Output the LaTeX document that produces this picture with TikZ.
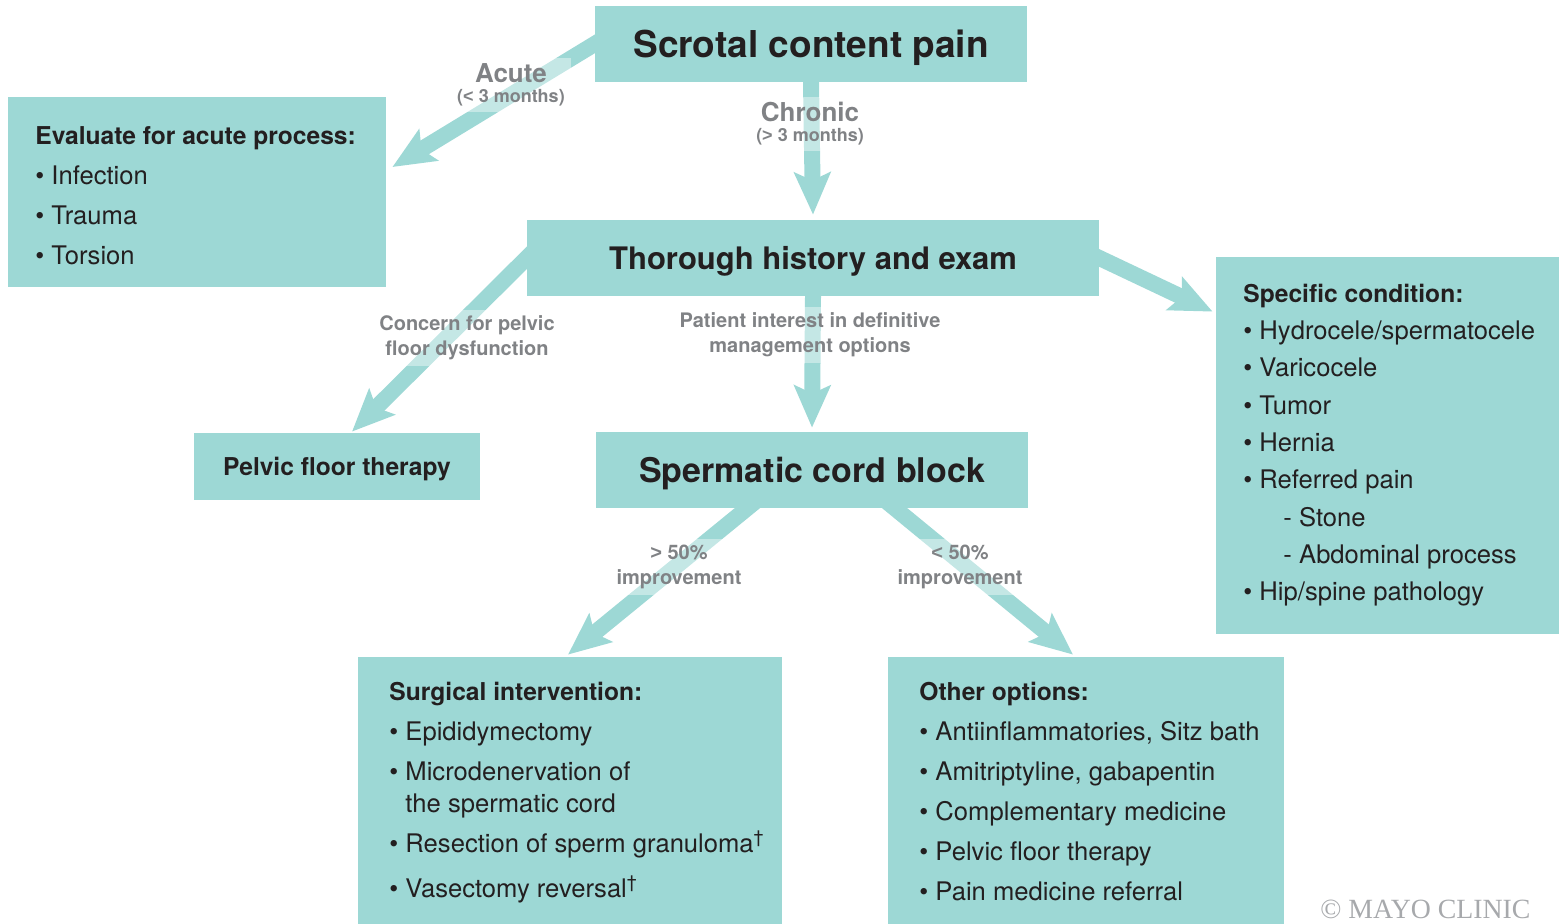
\documentclass[tikz,border=0pt]{standalone}
\usepackage{fontspec}
\setmainfont{TeX Gyre Heros}
\newfontfamily\mayofont{Liberation Serif}
\newfontfamily\relfont{Liberation Sans}
\usetikzlibrary{arrows.meta}

\definecolor{boxteal}{RGB}{157,216,213}
\definecolor{labelgray}{RGB}{128,130,133}
\definecolor{textdark}{RGB}{35,31,32}
\definecolor{mayogray}{RGB}{167,169,172}

\tikzset{
  box/.style={fill=boxteal, inner sep=0pt, text=textdark},
  title/.style={box, text depth=0pt},
  flow/.style={draw=boxteal, line width=8pt, shorten <=-6pt,
    -{Stealth[length=21pt, width=18pt, inset=4pt]}},
  lbl/.style={fill=white, fill opacity=0.4, text opacity=1, text=labelgray,
    font=\bfseries\fontsize{10}{12.5}\selectfont, align=center, inner sep=3pt},
  item/.style={anchor=base west, inner sep=0pt, text=textdark,
    font=\fontsize{12.8}{15}\selectfont},
  head/.style={item, font=\bfseries\fontsize{12.3}{15}\selectfont}
}

\begin{document}
\begin{tikzpicture}[x=0.5pt, y=-0.5pt]
  \useasboundingbox (0,0) rectangle (1562,923);

  % boxes
  \node[title, minimum width=216pt, minimum height=38pt, text height=13.3pt,
    font=\bfseries\fontsize{18.5}{22}\selectfont] (scrotal) at (811,44) {Scrotal content pain};
  \node[box, minimum width=189pt, minimum height=95pt] (acute) at (197,192) {};
  \node[title, minimum width=286pt, minimum height=38pt, text height=11.2pt,
    font=\bfseries\fontsize{15.5}{18}\selectfont] (thorough) at (813,258) {Thorough history and exam};
  \node[box, minimum width=171.5pt, minimum height=188.5pt] (specific) at (1387.5,445.5) {};
  \node[title, minimum width=143pt, minimum height=33.5pt, text height=8.9pt,
    font=\bfseries\fontsize{12.3}{15}\selectfont] (pelvic) at (337,466.5) {Pelvic floor therapy};
  \node[title, minimum width=216pt, minimum height=38pt, text height=12.2pt,
    font=\bfseries\fontsize{17}{20}\selectfont] (spermatic) at (812,470) {Spermatic cord block};
  \node[box, minimum width=212pt, minimum height=136.5pt] (surgical) at (570,793.5) {};
  \node[box, minimum width=198pt, minimum height=136.5pt] (other) at (1086,793.5) {};

  % arrows
  \draw[flow] (scrotal.west) -- ([xshift=3pt, yshift=12.5pt]acute.east);
  \draw[flow] (scrotal.south) -- ([yshift=2.5pt]thorough.north);
  \draw[flow] (thorough.east) -- ([xshift=-1.5pt, yshift=-27.5pt]specific.north west);
  \draw[flow] (thorough.west) -- ([xshift=7.5pt, yshift=0.5pt]pelvic.north);
  \draw[flow] (thorough.south) -- ([yshift=2pt]spermatic.north);
  \draw[flow] ([xshift=-32.5pt]spermatic.south) -- ([xshift=-1pt, yshift=1pt]surgical.north);
  \draw[flow] ([xshift=41.5pt]spermatic.south) -- ([xshift=-6.5pt, yshift=1pt]other.north);

  % arrow labels
  \node[lbl, font=\bfseries\fontsize{13}{10}\selectfont] (acutelbl) at (511,85)
    {Acute\\{\fontsize{9}{10}\selectfont ({\relfont <} 3 months)}};
  \node[lbl, font=\bfseries\fontsize{13}{10}\selectfont] (chroniclbl) at (810,124)
    {Chronic\\{\fontsize{9}{10}\selectfont ({\relfont >} 3 months)}};
  \node[lbl] (concernlbl) at (467,338) {Concern for pelvic\\floor dysfunction};
  \node[lbl] (patientlbl) at (810,335) {Patient interest in definitive\\management options};
  \node[lbl] (betterlbl) at (679,567) {{\relfont >} 50\%\\improvement};
  \node[lbl] (worselbl) at (960,567) {{\relfont <} 50\%\\improvement};

  % acute process
  \node[head] (acutehead) at (35,144) {Evaluate for acute process:};
  \node[item] (infection) at (35,184) {\textbullet\ Infection};
  \node[item] (trauma) at (35,224) {\textbullet\ Trauma};
  \node[item] (torsion) at (35,264) {\textbullet\ Torsion};

  % specific condition
  \node[head] (spechead) at (1243,302) {Specific condition:};
  \node[item] (hydrocele) at (1243,339) {\textbullet\ Hydrocele/spermatocele};
  \node[item] (varicocele) at (1243,376) {\textbullet\ Varicocele};
  \node[item] (tumor) at (1243,414) {\textbullet\ Tumor};
  \node[item] (hernia) at (1243,451) {\textbullet\ Hernia};
  \node[item] (referred) at (1243,488) {\textbullet\ Referred pain};
  \node[item] (stone) at (1283,526) {- Stone};
  \node[item] (abdominal) at (1283,563) {- Abdominal process};
  \node[item] (hipspine) at (1243,600) {\textbullet\ Hip/spine pathology};

  % surgical intervention
  \node[head] (surghead) at (389,700) {Surgical intervention:};
  \node[item] (epid) at (389,740) {\textbullet\ Epididymectomy};
  \node[item] (microden) at (389,780) {\textbullet\ Microdenervation of};
  \node[item] (microden2) at (389,812) {\phantom{\textbullet\ }the spermatic cord};
  \node[item] (resection) at (389,852) {\textbullet\ Resection of sperm granuloma\textsuperscript{\textdagger}};
  \node[item] (vasectomy) at (389,897) {\textbullet\ Vasectomy reversal\textsuperscript{\textdagger}};

  % other options
  \node[head] (otherhead) at (919,700) {Other options:};
  \node[item] (antiinfl) at (919,740) {\textbullet\ Antiinflammatories, Sitz bath};
  \node[item] (amitrip) at (919,780) {\textbullet\ Amitriptyline, gabapentin};
  \node[item] (complem) at (919,820) {\textbullet\ Complementary medicine};
  \node[item] (pelvicopt) at (919,860) {\textbullet\ Pelvic floor therapy};
  \node[item] (painref) at (919,900) {\textbullet\ Pain medicine referral};

  \node[anchor=base west, inner sep=0pt, text=mayogray,
    font=\mayofont\fontsize{13.9}{16}\selectfont] (mayo) at (1320,918) {© MAYO CLINIC};
\end{tikzpicture}
\end{document}
